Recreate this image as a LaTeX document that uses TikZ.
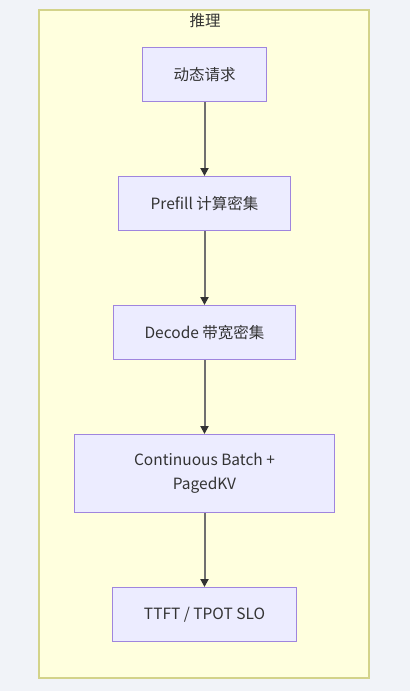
\documentclass[tikz,border=0pt]{standalone}
\usepackage{fontspec}
\setmainfont{Noto Sans CJK SC}
\usetikzlibrary{arrows.meta}
\definecolor{bg}{HTML}{F1F3F8}
\definecolor{clfill}{HTML}{FFFFDE}
\definecolor{clline}{HTML}{D3D38A}
\definecolor{nfill}{HTML}{ECECFF}
\definecolor{nline}{HTML}{9F85DE}
\definecolor{txt}{HTML}{333333}
\definecolor{edge}{HTML}{707070}
\tikzset{
  box/.style={draw=nline, fill=nfill, line width=1pt, text=txt, font=\fontsize{15.5}{24}\selectfont, align=center, inner sep=0pt, anchor=north west},
  link/.style={draw=edge, line width=2pt, -{Triangle[length=8pt,width=8pt,fill=txt,color=txt]}}
}
\begin{document}
\begin{tikzpicture}[x=1pt,y=-1pt]
\useasboundingbox (0,0) rectangle (410,691);
\fill[bg] (0,0) rectangle (410,691);
\draw[clline, fill=clfill, line width=1.5pt] (39,10) rectangle (369,678);
\node[text=txt, font=\fontsize{15.5}{18}\selectfont] (title) at (205,21) {推理};
\node[box, minimum width=124pt, minimum height=54pt] (n1) at (142,47) {动态请求};
\node[box, minimum width=172pt, minimum height=54pt] (n2) at (118,176) {Prefill 计算密集};
\node[box, minimum width=182pt, minimum height=54pt] (n3) at (113,305) {Decode 带宽密集};
\node[box, minimum width=260pt, minimum height=78pt] (n4) at (74,434) {Continuous Batch +\\PagedKV};
\node[box, minimum width=184pt, minimum height=54pt] (n5) at (112,587) {TTFT / TPOT SLO};
\draw[link] (n1.south) -- (n2.north);
\draw[link] (n2.south) -- (n3.north);
\draw[link] (n3.south) -- (n4.north);
\draw[link] (n4.south) -- (n5.north);
\end{tikzpicture}
\end{document}
